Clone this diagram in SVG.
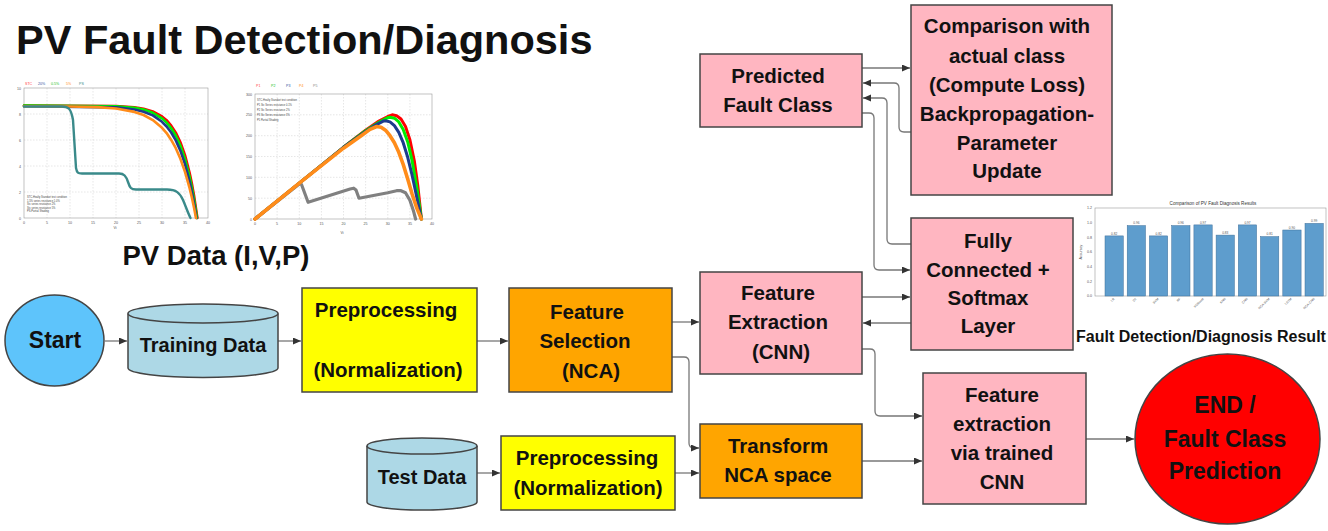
<svg xmlns="http://www.w3.org/2000/svg" width="1328" height="531" viewBox="0 0 1328 531">
<style>
.t{font-family:"Liberation Sans",Arial,sans-serif;font-weight:bold;fill:#111;text-anchor:middle;}
.b{font-size:20.5px;}
.box{stroke:#444;stroke-width:1.5;}
.pink{fill:#ffb6c1;}
.yel{fill:#ffff00;}
.org{fill:#ffa500;}
.cyl{fill:#add8e6;stroke:#444;stroke-width:1.5;}
.con{fill:none;stroke:#777;stroke-width:1.3;marker-end:url(#ah);}
.ax{fill:none;stroke:#999;stroke-width:0.6;}
.gr{stroke:#ccc;stroke-width:0.5;stroke-dasharray:1.5 1.5;}
.tk{font-family:"Liberation Sans",Arial,sans-serif;font-size:3.6px;fill:#555;}
.tkr{font-family:"Liberation Sans",Arial,sans-serif;font-size:3.6px;fill:#555;text-anchor:end;}
.tkm{font-family:"Liberation Sans",Arial,sans-serif;font-size:3.6px;fill:#555;text-anchor:middle;}
.tiny{font-family:"Liberation Sans",Arial,sans-serif;font-size:2.6px;fill:#444;}
.crv{fill:none;stroke-linejoin:round;stroke-linecap:round;}
.bar{fill:#5e9dcd;stroke:#3f6f99;stroke-width:0.5;}
</style>
<defs>
<marker id="ah" markerUnits="userSpaceOnUse" markerWidth="9" markerHeight="8" refX="8" refY="3.5" orient="auto">
<path d="M0,0 L8,3.5 L0,7 Z" fill="#333"/>
</marker>
</defs>
<rect width="1328" height="531" fill="#ffffff"/>

<g id="title">
<text class="t" x="16" y="54" style="font-size:41.5px;text-anchor:start">PV Fault Detection/Diagnosis</text>
</g>

<g id="iv-chart">
<rect x="24" y="88" width="184" height="130" fill="#fff"/>
<g class="gr">
<line x1="47" y1="88" x2="47" y2="218"/><line x1="70" y1="88" x2="70" y2="218"/><line x1="93" y1="88" x2="93" y2="218"/><line x1="116" y1="88" x2="116" y2="218"/><line x1="139" y1="88" x2="139" y2="218"/><line x1="162" y1="88" x2="162" y2="218"/><line x1="185" y1="88" x2="185" y2="218"/>
<line x1="24" y1="192" x2="208" y2="192"/><line x1="24" y1="166" x2="208" y2="166"/><line x1="24" y1="140" x2="208" y2="140"/><line x1="24" y1="114" x2="208" y2="114"/>
</g>
<rect class="ax" x="24" y="88" width="184" height="130"/>
<text class="tkr" x="21" y="219.5">0</text><text class="tkr" x="21" y="193.5">2</text><text class="tkr" x="21" y="167.5">4</text><text class="tkr" x="21" y="141.5">6</text><text class="tkr" x="21" y="115.5">8</text><text class="tkr" x="21" y="89.5">10</text>
<text class="tkm" x="24" y="224">0</text><text class="tkm" x="47" y="224">5</text><text class="tkm" x="70" y="224">10</text><text class="tkm" x="93" y="224">15</text><text class="tkm" x="116" y="224">20</text><text class="tkm" x="139" y="224">25</text><text class="tkm" x="162" y="224">30</text><text class="tkm" x="185" y="224">35</text><text class="tkm" x="208" y="224">40</text>
<text class="tkm" x="115" y="229">Vi</text>
<text class="tk" x="25" y="85" style="fill:#ff4040">STC</text>
<text class="tk" x="38" y="85" style="fill:#3050a0">20%</text>
<text class="tk" x="51" y="85" style="fill:#20c020">0.5%</text>
<text class="tk" x="66" y="85" style="fill:#ff8c1a">5%</text>
<text class="tk" x="79" y="85" style="fill:#3a8a8a">PS</text>
<text class="tiny" x="27" y="198">STC-Healty Standart test condition</text>
<text class="tiny" x="27" y="201.5">1.5% series resistance 1.0%</text>
<text class="tiny" x="27" y="205">Stc series resistance 2%</text>
<text class="tiny" x="27" y="208.5">Stc series resistance 5%</text>
<text class="tiny" x="27" y="212">PS-Partial Shading</text>
<polyline class="crv" stroke="#ff0000" stroke-width="2.6" points="24,105.5 116,106.1 134.4,107.4 143.6,108.8 152.8,111.5 162,116.5 166.6,120.2 171.2,125.6 175.8,132.6 180.4,142.2 185,155.2 189.6,172.8 191.9,183.7 194.2,196.6 197.4,218"/>
<polyline class="crv" stroke="#00ee00" stroke-width="2.6" points="24,105.5 116,106.3 134.4,107.9 143.6,109.6 152.8,112.8 162,118.4 166.6,122.6 171.2,128.3 175.8,135.8 180.4,145.7 185,159.1 189.6,176.8 191.9,187.7 194.2,200.3 197,218"/>
<polyline class="crv" stroke="#1c3c8c" stroke-width="2.6" points="24,106.2 116,107.4 134.4,109.5 143.6,111.7 152.8,115.4 162,121.8 166.6,126.5 171.2,132.5 175.8,140.4 180.4,150.7 185,164.1 189.6,181.5 191.9,192.1 194.2,204.2 196.5,218"/>
<polyline class="crv" stroke="#ff8c1a" stroke-width="2.6" points="24,106.2 70,106.5 97.6,107.1 116,108.5 134.4,111.9 143.6,115 152.8,120.1 162,127.8 166.6,133.1 171.2,139.9 175.8,148.2 180.4,158.7 185,171.9 189.6,188.1 191.9,197.7 194.2,208.5 196,218"/>
<path class="crv" stroke="#3a8a8a" stroke-width="2.4" d="M24,106.5 H62 C68,106.5 71,108 73,120 L76,168 C77,173 78,173.5 82,173.5 H119 C124,173.5 126,176 128,182 C130,188 131,189.5 136,189.5 H167 C176,189.5 180,193 183,200 C186,207 188,213 190.5,218"/>
</g>

<g id="pv-chart">
<rect x="255" y="94" width="177" height="125" fill="#fff"/>
<g class="gr">
<line x1="277.1" y1="94" x2="277.1" y2="219"/><line x1="299.3" y1="94" x2="299.3" y2="219"/><line x1="321.4" y1="94" x2="321.4" y2="219"/><line x1="343.5" y1="94" x2="343.5" y2="219"/><line x1="365.6" y1="94" x2="365.6" y2="219"/><line x1="387.8" y1="94" x2="387.8" y2="219"/><line x1="409.9" y1="94" x2="409.9" y2="219"/>
<line x1="255" y1="198.2" x2="432" y2="198.2"/><line x1="255" y1="177.3" x2="432" y2="177.3"/><line x1="255" y1="156.5" x2="432" y2="156.5"/><line x1="255" y1="135.7" x2="432" y2="135.7"/><line x1="255" y1="114.8" x2="432" y2="114.8"/>
</g>
<rect class="ax" x="255" y="94" width="177" height="125"/>
<text class="tkr" x="252" y="220.5">0</text><text class="tkr" x="252" y="199.7">50</text><text class="tkr" x="252" y="178.8">100</text><text class="tkr" x="252" y="158">150</text><text class="tkr" x="252" y="137.2">200</text><text class="tkr" x="252" y="116.3">250</text><text class="tkr" x="252" y="95.5">300</text>
<text class="tkm" x="255" y="225">0</text><text class="tkm" x="277.1" y="225">5</text><text class="tkm" x="299.3" y="225">10</text><text class="tkm" x="321.4" y="225">15</text><text class="tkm" x="343.5" y="225">20</text><text class="tkm" x="365.6" y="225">25</text><text class="tkm" x="387.8" y="225">30</text><text class="tkm" x="409.9" y="225">35</text><text class="tkm" x="432" y="225">40</text>
<text class="tkm" x="342" y="234">Vi</text>
<text class="tk" x="256" y="87" style="fill:#ff4040">P1</text>
<text class="tk" x="271" y="87" style="fill:#20c020">P2</text>
<text class="tk" x="286" y="87" style="fill:#3050a0">P3</text>
<text class="tk" x="299" y="87" style="fill:#ff8c1a">P4</text>
<text class="tk" x="313" y="87" style="fill:#888">P5</text>
<text class="tiny" x="257" y="101">STC-Healty Standart test condition</text>
<text class="tiny" x="257" y="106">P1 Stc Series resistance 0.1%</text>
<text class="tiny" x="257" y="111">P2 Stc Series resistance 2%</text>
<text class="tiny" x="257" y="116">P3 Stc Series resistance 3%</text>
<text class="tiny" x="257" y="121">P5 Partial Shading</text>
<polyline class="crv" stroke="#ff0000" stroke-width="3" points="255,219 299.3,183.2 343.5,147.3 365.6,130.2 378.9,121.1 387.8,116.5 392.2,114.8 396.6,115.7 401,119 405.5,126.5 409.9,139.8 414.3,160.7 417.8,185.7 421.4,219"/>
<polyline class="crv" stroke="#00ee00" stroke-width="3" points="255,219 299.3,183.2 343.5,147.3 365.6,130.7 378.9,122.3 387.8,117.7 390,117.3 394.4,118.2 398.8,121.9 403.2,129.4 407.7,141.9 412.1,160.7 416.5,185.7 421.4,219"/>
<polyline class="crv" stroke="#1c3c8c" stroke-width="3" points="255,219 299.3,183.2 343.5,147.3 365.6,131.5 374.5,125.7 383.3,121.1 385.5,120.7 390,121.9 394.4,125.7 398.8,132.3 403.2,142.7 407.7,157.3 412.1,175.2 417,198.2 421.4,219"/>
<polyline class="crv" stroke="#808080" stroke-width="3.2" points="255,219 299.3,184 301.5,184.5 308.1,202.3 350.1,189 353.7,188.2 356,190 359,198.2 387.8,192.7 396.6,190.7 401,190.7 405.5,192.7 409.9,200.3 413.4,210.7 415.6,219"/>
<polyline class="crv" stroke="#ff8c1a" stroke-width="3.6" points="255,219 299.3,183.2 343.5,148.2 361.2,135.7 370,129.4 376.7,126.5 381.1,127.3 385.5,130.2 390,135.7 394.4,142.7 398.8,152.3 403.2,164.4 407.7,179 412.1,194 417,208.6 421.4,219"/>
</g>

<g id="pv-data-label">
<text class="t" x="216" y="265" style="font-size:27.5px">PV Data (I,V,P)</text>
</g>

<g id="bar-chart">
<text class="tkm" x="1213" y="205" style="font-size:4.6px;fill:#333">Comparison of PV Fault Diagnosis Results</text>
<rect class="ax" x="1095" y="208" width="231" height="88"/>
<text class="tkr" x="1092" y="297.2">0.0</text><text class="tkr" x="1092" y="282.5">0.2</text><text class="tkr" x="1092" y="267.9">0.4</text><text class="tkr" x="1092" y="253.2">0.6</text><text class="tkr" x="1092" y="238.5">0.8</text><text class="tkr" x="1092" y="223.9">1.0</text><text class="tkr" x="1092" y="209.2">1.2</text>
<text class="tkm" transform="translate(1082,252) rotate(-90)">Accuracy</text>
<rect class="bar" x="1105" y="235.9" width="18.3" height="60.1"/>
<rect class="bar" x="1127.2" y="225.6" width="18.3" height="70.4"/>
<rect class="bar" x="1149.4" y="235.9" width="18.3" height="60.1"/>
<rect class="bar" x="1171.7" y="225.6" width="18.3" height="70.4"/>
<rect class="bar" x="1193.9" y="224.9" width="18.3" height="71.1"/>
<rect class="bar" x="1216.1" y="235.1" width="18.3" height="60.9"/>
<rect class="bar" x="1238.3" y="224.9" width="18.3" height="71.1"/>
<rect class="bar" x="1260.5" y="236.6" width="18.3" height="59.4"/>
<rect class="bar" x="1282.8" y="230" width="18.3" height="66"/>
<rect class="bar" x="1305" y="223.4" width="18.3" height="72.6"/>
<g class="tkm" style="font-size:3.2px">
<text x="1114.2" y="234.5">0.82</text><text x="1136.4" y="224.2">0.96</text><text x="1158.6" y="234.5">0.82</text><text x="1180.8" y="224.2">0.96</text><text x="1203" y="223.5">0.97</text><text x="1225.3" y="233.7">0.83</text><text x="1247.5" y="223.5">0.97</text><text x="1269.7" y="235.2">0.81</text><text x="1291.9" y="228.6">0.90</text><text x="1314.1" y="222">0.99</text>
</g>
<g class="tkr" style="font-size:3.2px">
<text transform="translate(1115,299) rotate(-45)">LR</text>
<text transform="translate(1137,299) rotate(-45)">DT</text>
<text transform="translate(1159,299) rotate(-45)">SVM</text>
<text transform="translate(1181,299) rotate(-45)">RF</text>
<text transform="translate(1204,299) rotate(-45)">XGBoost</text>
<text transform="translate(1226,299) rotate(-45)">KNN</text>
<text transform="translate(1248,299) rotate(-45)">CNN</text>
<text transform="translate(1270,299) rotate(-45)">NCA-SVM</text>
<text transform="translate(1292,299) rotate(-45)">LSTM</text>
<text transform="translate(1315,299) rotate(-45)">NCA-CNN</text>
</g>
<text class="t" x="1201" y="342" style="font-size:16px">Fault Detection/Diagnosis Result</text>
</g>

<g id="connectors">
<path class="con" d="M105,341 H127"/>
<path class="con" d="M278,341 H301"/>
<path class="con" d="M477,341 H508"/>
<path class="con" d="M672,322 H699"/>
<path class="con" d="M672,357 H684 Q689,357 689,362 V443 Q689,448 694,448 H699"/>
<path class="con" d="M477,473 H500"/>
<path class="con" d="M675,473 H699"/>
<path class="con" d="M862,461 H922"/>
<path class="con" d="M862,349 H870 Q875,349 875,354 V411 Q875,416 880,416 H922"/>
<path class="con" d="M1086,439 H1134"/>
<path class="con" d="M862,68 H910"/>
<path class="con" d="M911,132 H904 Q899,132 899,127 V88 Q899,83 894,83 H863"/>
<path class="con" d="M911,244 H892 Q887,244 887,239 V103 Q887,98 882,98 H863"/>
<path class="con" d="M862,113 H869 Q874,113 874,118 V265 Q874,270 879,270 H910"/>
<path class="con" d="M862,297 H910"/>
<path class="con" d="M911,323 H863"/>
</g>

<g id="start">
<ellipse cx="54.5" cy="340.5" rx="49.5" ry="45.5" fill="#5ec4fb" stroke="#444" stroke-width="1.5"/>
<text class="t" x="55" y="348" style="font-size:23px">Start</text>
</g>

<g id="training-data">
<path class="cyl" d="M128,313.5 V368 A75,9.5 0 0 0 278,368 V313.5"/>
<ellipse class="cyl" cx="203" cy="313.5" rx="75" ry="9.5"/>
<text class="t" x="203" y="352" style="font-size:20px">Training Data</text>
</g>

<g id="preprocessing-train">
<rect class="box yel" x="302" y="288" width="175" height="104"/>
<text class="t b" x="386" y="317">Preprocessing</text>
<text class="t b" x="388" y="377">(Normalization)</text>
</g>

<g id="feature-selection">
<rect class="box org" x="509" y="288" width="163" height="104"/>
<text class="t b" x="587" y="319">Feature</text>
<text class="t b" x="585" y="348">Selection</text>
<text class="t b" x="591" y="378">(NCA)</text>
</g>

<g id="feature-extraction-cnn">
<rect class="box pink" x="700" y="272" width="162" height="102"/>
<text class="t b" x="778" y="300">Feature</text>
<text class="t b" x="778" y="329">Extraction</text>
<text class="t b" x="781" y="359">(CNN)</text>
</g>

<g id="predicted-fault-class">
<rect class="box pink" x="700" y="54" width="162" height="73"/>
<text class="t b" x="778" y="83">Predicted</text>
<text class="t b" x="778" y="112">Fault Class</text>
</g>

<g id="comparison">
<rect class="box pink" x="911" y="5" width="201" height="190"/>
<text class="t b" x="1007" y="33">Comparison with</text>
<text class="t b" x="1007" y="63">actual class</text>
<text class="t b" x="1007" y="92">(Compute Loss)</text>
<text class="t b" x="1007" y="121">Backpropagation-</text>
<text class="t b" x="1007" y="150">Parameter</text>
<text class="t b" x="1007" y="178">Update</text>
</g>

<g id="fully-connected">
<rect class="box pink" x="911" y="218" width="162" height="132"/>
<text class="t b" x="988" y="248">Fully</text>
<text class="t b" x="988" y="277">Connected +</text>
<text class="t b" x="988" y="305">Softmax</text>
<text class="t b" x="988" y="333">Layer</text>
</g>

<g id="test-data">
<path class="cyl" d="M367,446 V502 A55,8 0 0 0 477,502 V446"/>
<ellipse class="cyl" cx="422" cy="446" rx="55" ry="8"/>
<text class="t" x="422" y="484" style="font-size:20px">Test Data</text>
</g>

<g id="preprocessing-test">
<rect class="box yel" x="501" y="436" width="174" height="74"/>
<text class="t b" x="587" y="465">Preprocessing</text>
<text class="t b" x="588" y="495">(Normalization)</text>
</g>

<g id="transform-nca">
<rect class="box org" x="700" y="424" width="162" height="74"/>
<text class="t b" x="778" y="453">Transform</text>
<text class="t b" x="778" y="482">NCA space</text>
</g>

<g id="feature-extraction-trained">
<rect class="box pink" x="923" y="373" width="163" height="131"/>
<text class="t b" x="1002" y="402">Feature</text>
<text class="t b" x="1002" y="431">extraction</text>
<text class="t b" x="1002" y="460">via trained</text>
<text class="t b" x="1002" y="489">CNN</text>
</g>

<g id="end">
<ellipse cx="1227.5" cy="439" rx="92.5" ry="85" fill="#ff0000" stroke="#444" stroke-width="1.5"/>
<text class="t" x="1225" y="413" style="font-size:23px">END /</text>
<text class="t" x="1225" y="447" style="font-size:23px">Fault Class</text>
<text class="t" x="1225" y="479" style="font-size:23px">Prediction</text>
</g>
</svg>
